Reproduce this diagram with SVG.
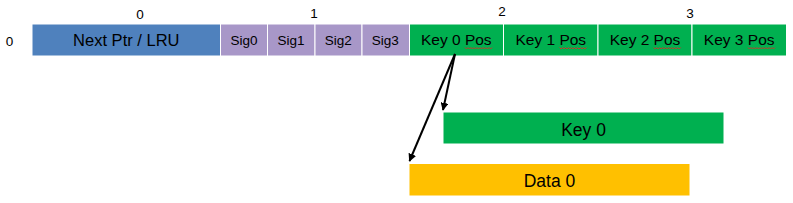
<svg xmlns="http://www.w3.org/2000/svg" width="793" height="203" viewBox="0 0 793 203">
<style>
.t{font-family:"Liberation Sans",Arial,sans-serif;fill:#000;text-anchor:middle}
.n{font-size:13.5px}
.s{font-size:13.5px}
.p{font-size:15.5px}
.L{font-size:17.5px}
.b{stroke:#fff;stroke-width:1}
.sq{fill:none;stroke:#e02828;stroke-width:0.9}
.c{stroke:#000;stroke-width:2;fill:none}
</style>
<defs>
<marker id="ah" viewBox="0 0 10 10" refX="9" refY="5" markerWidth="4" markerHeight="4" orient="auto-start-reverse">
<path d="M0,0 L10,5 L0,10 z" fill="#000"/>
</marker>
<path id="wv" d="M0,0 l1.5,1.5 1.5,-1.5 1.5,1.5 1.5,-1.5 1.5,1.5 1.5,-1.5 1.5,1.5 1.5,-1.5 1.5,1.5 1.5,-1.5 1.5,1.5 1.5,-1.5 1.5,1.5 1.5,-1.5 1.5,1.5 1.5,-1.5 1.5,1.5 1.5,-1.5"/>
</defs>
<rect width="793" height="203" fill="#fff"/>
<g id="labels">
<text class="t n" x="140" y="18.5">0</text>
<text class="t n" x="314" y="17.5">1</text>
<text class="t n" x="502" y="15.5">2</text>
<text class="t n" x="690" y="17.5">3</text>
<text class="t n" x="9.5" y="45.5">0</text>
</g>
<g id="nextptr"><rect class="b" x="32" y="24" width="188.5" height="32" fill="#4F81BD"/><text class="t" x="126.3" y="45.5" font-size="16.5">Next Ptr / LRU</text></g>
<g id="sig0"><rect class="b" x="220.5" y="24" width="47" height="32" fill="#A897C8"/><text class="t s" x="244" y="45">Sig0</text></g>
<g id="sig1"><rect class="b" x="267.5" y="24" width="47.5" height="32" fill="#A897C8"/><text class="t s" x="291" y="45">Sig1</text></g>
<g id="sig2"><rect class="b" x="315" y="24" width="47" height="32" fill="#A897C8"/><text class="t s" x="338.3" y="45">Sig2</text></g>
<g id="sig3"><rect class="b" x="362" y="24" width="47.5" height="32" fill="#A897C8"/><text class="t s" x="385.2" y="45">Sig3</text></g>
<g id="key0pos"><rect class="b" x="409.5" y="24" width="94" height="32" fill="#00B050"/><text class="t p" x="456.3" y="45">Key 0 Pos</text><use class="sq" href="#wv" x="465" y="47.5"/></g>
<g id="key1pos"><rect class="b" x="503.5" y="24" width="94.5" height="32" fill="#00B050"/><text class="t p" x="550.8" y="45">Key 1 Pos</text><use class="sq" href="#wv" x="559.5" y="47.5"/></g>
<g id="key2pos"><rect class="b" x="598" y="24" width="94" height="32" fill="#00B050"/><text class="t p" x="645" y="45">Key 2 Pos</text><use class="sq" href="#wv" x="653.7" y="47.5"/></g>
<g id="key3pos"><rect class="b" x="692" y="24" width="94.5" height="32" fill="#00B050"/><text class="t p" x="739.2" y="45">Key 3 Pos</text><use class="sq" href="#wv" x="748" y="47.5"/></g>
<g id="key0"><rect x="443.5" y="112.5" width="280" height="31" fill="#00B050"/><text class="t L" x="583.5" y="135.5">Key 0</text></g>
<g id="data0"><rect x="409.5" y="164" width="280" height="31.5" fill="#FFC000"/><text class="t L" x="549.5" y="187">Data 0</text></g>
<g id="connectors">
<line class="c" x1="455" y1="54" x2="443" y2="110" marker-end="url(#ah)"/>
<line class="c" x1="455" y1="54" x2="409.5" y2="161" marker-end="url(#ah)"/>
</g>
</svg>
